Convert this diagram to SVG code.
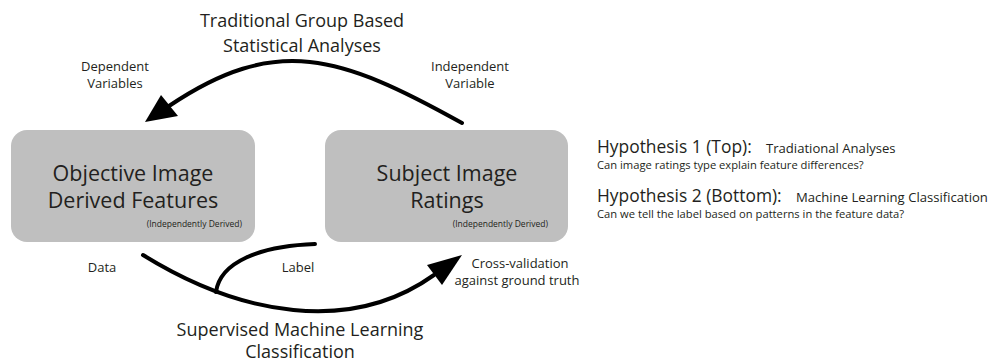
<svg xmlns="http://www.w3.org/2000/svg" width="995" height="364" viewBox="0 0 995 364">
<style>
text{font-family:"Open Sans","Liberation Sans",sans-serif;fill:#231f20}
.box{fill:#bfbfbf}
.big{font-size:21.5px;text-anchor:middle}
.tiny{font-size:8.5px;text-anchor:end}
.title{font-size:18px;text-anchor:middle}
.lab{font-size:13px;text-anchor:middle}
.hyp{font-size:17.4px}
.hs{font-size:13.1px}
.hq{font-size:11.2px}
.line{fill:none;stroke:#000;stroke-width:4;stroke-linecap:round}
.head{fill:#000}
</style>
<rect width="995" height="364" fill="#fff"/>
<g id="node-objective">
<rect class="box" x="11" y="130" width="244" height="112" rx="16"/>
<text class="big" x="133" y="181">Objective Image</text>
<text class="big" x="133" y="208">Derived Features</text>
<text class="tiny" x="242" y="227">(Independently Derived)</text>
</g>
<g id="node-subject">
<rect class="box" x="325" y="130" width="243" height="112" rx="16"/>
<text class="big" x="447" y="181">Subject Image</text>
<text class="big" x="447" y="208">Ratings</text>
<text class="tiny" x="548" y="227">(Independently Derived)</text>
</g>
<g id="connectors">
<path class="line" d="M462,123 C340,55 276,34 169,106"/>
<polygon class="head" points="145,122 161,95 178,116"/>
<path class="line" d="M143,255 C240,315 350,335 434,275"/>
<polygon class="head" points="462,255 427,265 442,285"/>
<path class="line" d="M315,244 C260,246 220,262 216,292"/>
</g>
<g id="labels">
<text class="title" x="302" y="27">Traditional Group Based</text>
<text class="title" x="302" y="52">Statistical Analyses</text>
<text class="lab" x="115" y="71">Dependent</text>
<text class="lab" x="115" y="88">Variables</text>
<text class="lab" x="470" y="71">Independent</text>
<text class="lab" x="470" y="88">Variable</text>
<text class="lab" x="102" y="272">Data</text>
<text class="lab" x="298" y="272">Label</text>
<text class="lab" x="520" y="268">Cross-validation</text>
<text class="lab" x="517" y="285">against ground truth</text>
<text class="title" x="300" y="336">Supervised Machine Learning</text>
<text class="title" x="300" y="358">Classification</text>
</g>
<g id="hypotheses">
<text class="hyp" x="597" y="153">Hypothesis 1 (Top):</text>
<text class="hs" x="766" y="153">Tradiational Analyses</text>
<text class="hq" x="597" y="169">Can image ratings type explain feature differences?</text>
<text class="hyp" x="597" y="202">Hypothesis 2 (Bottom):</text>
<text class="hs" x="796" y="202">Machine Learning Classification</text>
<text class="hq" x="597" y="218">Can we tell the label based on patterns in the  feature data?</text>
</g>
</svg>
